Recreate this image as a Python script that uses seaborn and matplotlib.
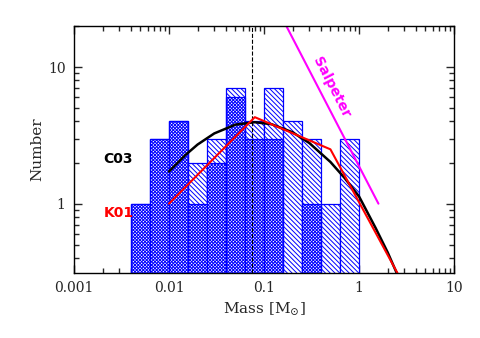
import numpy as np
import matplotlib
matplotlib.use("Agg")
import matplotlib.pyplot as plt
import seaborn as sns

# histogram: bin centres (log spaced, 0.2 dex bins from 10^-2.4 to 1)
bin_mass = [0.005, 0.0079, 0.0126, 0.02, 0.0316, 0.05, 0.079, 0.126, 0.2, 0.316, 0.5, 0.79]
n_all = [1, 3, 4, 2, 3, 7, 4, 7, 4, 3, 1, 3]   # diagonal hatch
n_sub = [1, 3, 4, 1, 2, 6, 3, 3, 0, 1, 0, 0]   # cross hatch

# IMF curves
c03_m = [0.01, 0.015, 0.02, 0.03, 0.05, 0.08, 0.12, 0.2, 0.3, 0.5, 0.7, 1.0, 1.5, 2.0, 2.6, 3.0]
c03_n = [1.72, 2.28, 2.71, 3.27, 3.79, 3.95, 3.82, 3.33, 2.78, 2.02, 1.55, 1.13, 0.66, 0.44, 0.29, 0.24]
k01_m = [0.01, 0.08, 0.5, 3.0]
k01_n = [1.0, 4.3, 2.5, 0.25]
salp_m = [0.15, 1.6]
salp_n = [24.0, 1.0]

h_lim = 0.075
xticks = [0.001, 0.01, 0.1, 1, 10]
xticklabels = ["0.001", "0.01", "0.1", "1", "10"]
yticks = [1, 10]
yticklabels = ["1", "10"]

sns.set_style("ticks")
plt.rcParams["font.family"] = ["DejaVu Serif"]
plt.rcParams["mathtext.fontset"] = "dejavuserif"
plt.rcParams["hatch.linewidth"] = 0.7
plt.rcParams["hatch.color"] = "blue"

fig = plt.figure(figsize=(4.8, 3.38), dpi=100)
ax = fig.add_axes([0.154, 0.192, 0.792, 0.731])

sns.histplot(x=bin_mass, weights=n_all, log_scale=True, binwidth=0.2, binrange=(-2.4, 0.0),
             element="bars", fill=True, facecolor="white", edgecolor="blue",
             hatch="\\" * 7, linewidth=0.9, ax=ax)
sns.histplot(x=bin_mass, weights=n_sub, log_scale=True, binwidth=0.2, binrange=(-2.4, 0.0),
             element="bars", fill=True, facecolor="white", edgecolor="blue",
             hatch="x" * 10, linewidth=0.9, ax=ax)

ax.set_yscale("log")
ax.axvline(h_lim, color="k", ls="--", lw=0.8)

sns.lineplot(x=c03_m, y=c03_n, sort=False, color="black", lw=1.8, ax=ax)
sns.lineplot(x=k01_m, y=k01_n, sort=False, color="red", lw=1.5, ax=ax)
sns.lineplot(x=salp_m, y=salp_n, sort=False, color="magenta", lw=1.5, ax=ax)

ax.text(0.00205, 2.13, "C03", color="black", fontsize=10, fontweight="bold",
        family="DejaVu Sans", ha="left", va="center")
ax.text(0.00205, 0.86, "K01", color="red", fontsize=10, fontweight="bold",
        family="DejaVu Sans", ha="left", va="center")
ax.text(0.516, 7.1, "Salpeter", color="magenta", fontsize=10, fontweight="bold",
        family="DejaVu Sans", ha="center", va="center", rotation=-62.8)

ax.set_xlim(0.001, 10)
ax.set_ylim(0.31, 20)
ax.set_xticks(xticks, labels=xticklabels)
ax.set_yticks(yticks, labels=yticklabels)
ax.tick_params(which="both", direction="in", top=True, right=True, width=1, labelsize=10)
ax.tick_params(which="major", length=6, pad=6)
ax.tick_params(which="minor", length=3.5)
for s in ax.spines.values():
    s.set_linewidth(1)
    s.set_color("black")

ax.set_xlabel(r"Mass [M$_{\odot}$]", fontsize=11, labelpad=4)
ax.set_ylabel("Number", fontsize=11, labelpad=3)

fig.savefig("out.png", dpi=100)
